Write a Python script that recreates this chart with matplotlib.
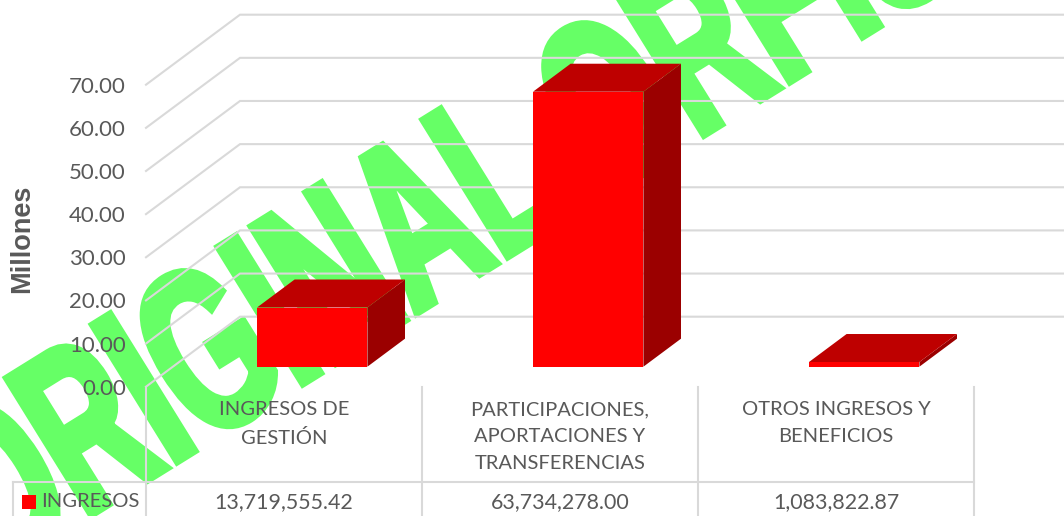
#!/usr/bin/env python3
"""3D style column chart with data table and watermark."""

import matplotlib
matplotlib.use("Agg")
import matplotlib.pyplot as plt
from matplotlib.patches import Polygon, Rectangle
from matplotlib.patheffects import AbstractPathEffect
from matplotlib.transforms import Affine2D

plt.rcParams['font.family'] = ['Lato', 'DejaVu Sans']

categories = ["INGRESOS DE\nGESTIÓN",
              "PARTICIPACIONES,\nAPORTACIONES Y\nTRANSFERENCIAS",
              "OTROS INGRESOS Y\nBENEFICIOS"]
ingresos = [13719555.42, 63734278.00, 1083822.87]
value_labels = ["13,719,555.42", "63,734,278.00", "1,083,822.87"]
y_ticks = [0, 10, 20, 30, 40, 50, 60, 70]
y_tick_labels = ["0.00", "10.00", "20.00", "30.00", "40.00", "50.00", "60.00", "70.00"]
series_name = "INGRESOS"
y_title = "Millones"
watermark = "ORIGINAL ORFIS"

W, H = 1064, 516
GRID = '#d9d9d9'
TEXT = '#595959'

# depth of the 3D box, in data units (94 px right, 70 px up on screen)
DEPTH_X = 94 / 276
DEPTH_Y = 70 / 4.314
BAR_W = 0.4
D0, D1 = 0.3, 0.7   # where the bars sit inside the depth
BAR_BASE = -0.23


class Squeeze(AbstractPathEffect):
    """Condense rotated text along its baseline and fatten the strokes."""

    def __init__(self, origin, angle, sx, lw):
        super().__init__()
        self.t = (Affine2D().translate(-origin[0], -origin[1]).rotate_deg(-angle)
                  .scale(sx, 1).rotate_deg(angle).translate(*origin))
        self.lw = lw

    def draw_path(self, renderer, gc, tpath, affine, rgbFace=None):
        gc0 = renderer.new_gc()
        gc0.copy_properties(gc)
        gc0.set_linewidth(self.lw)
        gc0.set_foreground(rgbFace)
        gc0.set_joinstyle('miter')
        renderer.draw_path(gc0, tpath, affine + self.t, rgbFace)
        gc0.restore()


def project(x, y, d):
    return x + d * DEPTH_X, y + d * DEPTH_Y


fig = plt.figure(figsize=(W / 100, H / 100), dpi=100)
ax = fig.add_axes([146 / W, (H - 386.7) / H, 828 / W, 302 / H])
ax.patch.set_alpha(0)
ax.set_xlim(0, 3)
ax.set_ylim(0, 70)
for s in ax.spines.values():
    s.set_visible(False)

# watermark sits behind everything
wm_x, wm_y = -9, H - 577
fig.text(wm_x / W, wm_y / H, watermark, fontsize=168, fontweight='bold',
         family='Liberation Sans', color='#66ff66',
         rotation=31.8, rotation_mode='anchor', ha='left', va='baseline', zorder=-1,
         path_effects=[Squeeze((wm_x, wm_y), 31.8, 0.6, 5.5)])

# walls
for v in y_ticks:
    bx, by = project(0, v, 1)
    ax.plot([0, bx, 3 + DEPTH_X], [v, by, by], color=GRID, lw=1.5,
            clip_on=False, zorder=1, solid_joinstyle='miter')

# bars
for i, val in enumerate(ingresos):
    h = val / 1e6 + BAR_BASE
    b = BAR_BASE
    x0 = i + 0.5 - BAR_W / 2
    x1 = x0 + BAR_W
    f = [project(x0, b, D0), project(x1, b, D0), project(x1, h, D0), project(x0, h, D0)]
    side = [project(x1, b, D0), project(x1, b, D1), project(x1, h, D1), project(x1, h, D0)]
    top = [project(x0, h, D0), project(x1, h, D0), project(x1, h, D1), project(x0, h, D1)]
    ax.add_patch(Polygon(side, fc='#9b0000', ec='none', clip_on=False, zorder=3))
    ax.add_patch(Polygon(top, fc='#be0000', ec='none', clip_on=False, zorder=3))
    ax.add_patch(Polygon(f, fc='#ff0000', ec='none', clip_on=False, zorder=4))

# table grid (data units below the floor)
PX = 70 / 302
row_y = -95 * PX
bottom = -130 * PX
left = -133 / 276
for x in range(4):
    ax.plot([x, x], [0, bottom], color=GRID, lw=1.5, clip_on=False, zorder=1)
ax.plot([left, 3], [row_y, row_y], color=GRID, lw=1.5, clip_on=False, zorder=1)
ax.plot([left, left], [row_y, bottom], color=GRID, lw=1.5, clip_on=False, zorder=1)

# axes text
ax.set_yticks(y_ticks, y_tick_labels)
ax.set_xticks([0.5, 1.5, 2.5], categories)
ax.tick_params(axis='y', length=0, pad=14.5, labelsize=16, labelcolor=TEXT)
ax.tick_params(axis='x', length=0, pad=10.5, labelsize=14.5, labelcolor=TEXT)
for lab in ax.get_xticklabels():
    lab.set_linespacing(1.72)

for i, s in enumerate(value_labels):
    ax.text(i + 0.5, -115 * PX, s, ha='center', va='center', fontsize=15.4,
            color=TEXT, zorder=5)
ax.text(-105 / 276, -115 * PX, series_name, ha='left', va='center', fontsize=14.6,
        color=TEXT, zorder=5)
ax.add_patch(Rectangle((-124 / 276, -122 * PX), 14 / 276, 14 * PX, fc='#ff0000',
                       ec='none', clip_on=False, zorder=5))

fig.text(22 / W, (H - 239) / H, y_title, rotation=90, ha='center', va='center',
         fontsize=19.5, fontweight='bold', family='Liberation Sans', color=TEXT)

fig.savefig('out.png', dpi=100)
